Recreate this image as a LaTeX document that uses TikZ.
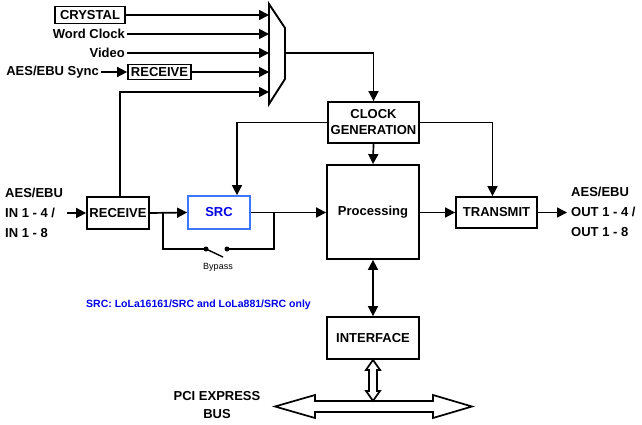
\documentclass[tikz,border=0pt]{standalone}
\usepackage{fontspec}
\setmainfont{Liberation Sans}
\usepackage{tikz}
\usetikzlibrary{positioning}
\usetikzlibrary{calc,arrows.meta}

\definecolor{srcblue}{RGB}{0,0,235}
\definecolor{srcedge}{RGB}{60,120,255}

\tikzset{
    blk/.style={draw, line width=1.8pt, fill=white, inner sep=1pt, align=center,
        font=\bfseries\fontsize{13}{16}\selectfont},
    lbl/.style={inner sep=2pt, font=\bfseries\fontsize{13}{20}\selectfont},
    arr/.style={line width=1.7pt, -{Triangle[length=10pt,width=10pt]}},
    wire/.style={line width=1.7pt},
}

\begin{document}
\begin{tikzpicture}[x=1pt,y=-1pt]
    \useasboundingbox (0,0) rectangle (642,425);

    % Clock source selector
    \coordinate (mux-l) at (269,0);
    \draw[line width=1.9pt] (269,4) -- (285,28) -- (285,79) -- (269,104) -- cycle;
    \coordinate (muxout) at (285,53); % output of the selector

    \node[blk, minimum width=70, minimum height=17, inner sep=0pt] (crystal) at (90,15) {CRYSTAL};
    \node[lbl, anchor=east] (wordclk) at (127,34) {Word Clock};
    \node[lbl, anchor=east] (video) at (127,53) {Video};
    \node[lbl, anchor=east] (syncin) at (101,72) {AES/EBU Sync};
    \node[blk, minimum width=63, minimum height=15, inner sep=0pt] (syncrx) at (159.5,72) {RECEIVE};

    \foreach \from in {crystal,wordclk,video,syncrx}{
        \draw[arr] (\from.east) -- (\from.east -| mux-l); % input of the selector
    }
    \draw[arr] (syncin.east) -- (syncrx.west);

    % Main blocks
    \node[blk, minimum width=91, minimum height=41] (clockgen) at (373.5,122.5) {CLOCK\\GENERATION};
    \node[blk, minimum width=62, minimum height=32] (rx) at (118,213) {RECEIVE};
    \node[blk, draw=srcedge, text=srcblue, minimum width=62, minimum height=33] (src) at (219,212.5) {SRC};
    \node[blk, minimum width=92, minimum height=94] (proc) at (373,212) {Processing};
    \node[blk, minimum width=81, minimum height=31] (tx) at (496.5,212.5) {TRANSMIT};
    \node[blk, minimum width=92, minimum height=42] (iface) at (373,338) {INTERFACE};

    \node[lbl, anchor=west, align=left] (inlbl) at (3,213) {AES/EBU\\IN 1 - 4 /\\IN 1 - 8};
    \node[lbl, anchor=west, align=left] (outlbl) at (569,212) {AES/EBU\\OUT 1 - 4 /\\OUT 1 - 8};
    \node[lbl, align=center, font=\bfseries\fontsize{13}{18}\selectfont] (buslbl) at (217,405) {PCI EXPRESS\\BUS};
    \node[anchor=west, inner sep=0pt, text=srcblue, font=\bfseries\fontsize{10.5}{12}\selectfont] (note) at (86,305)
        {SRC: LoLa16161/SRC and LoLa881/SRC only};

    % Clock paths
    \draw[arr] (muxout) -| (clockgen.north);
    \draw[arr] ([xshift=2pt]rx.north) |- (mux-l |- 0,92);
    \draw[arr] (clockgen.south) -- (proc.north);
    \draw[arr] (clockgen.west) -| ([xshift=18pt]src.north);
    \draw[arr] (clockgen.east) -| ([xshift=-4pt]tx.north);

    % Audio path
    \draw[arr] ([xshift=2pt]inlbl.east |- rx.west) -- (rx.west);
    \draw[arr] (rx.east) -- (src.west);
    \draw[arr] (src.east) -- (src.east -| proc.west);
    \draw[arr] (proc.east |- tx.west) -- (tx.west);
    \draw[arr] (tx.east) -- ([xshift=-2pt]outlbl.west |- tx.east);

    % Bypass switch
    \coordinate (byin) at (163,213);
    \coordinate (byout) at (274,213);
    \coordinate (sw1) at (206,249);
    \coordinate (sw2) at (227,249);
    \draw[wire] (byin) |- (sw1);
    \draw[wire] (sw2) -| (byout);
    \draw[line width=1.4pt] (sw1) -- (223,257);
    \fill (sw1) circle (2.5pt) (sw2) circle (2.5pt);
    \node[inner sep=0pt, font=\fontsize{9}{10}\selectfont] (bypass) at (218,267) {Bypass};

    % Host side
    \draw[line width=1.7pt, {Triangle[length=10pt,width=10pt]}-{Triangle[length=10pt,width=10pt]}] (proc.south) -- (iface.north);

    \coordinate (busL) at (275,406.5);
    \coordinate (busR) at (472,406.5);
    \draw[line width=1.7pt] (busL) -- ++(40,-11.5) -- ++(0,6) -- ($(busR)+(-39,-5.5)$) -- ++(0,-6) -- (busR)
        -- ++(-39,11.5) -- ++(0,-6) -- ($(busL)+(40,5.5)$) -- ++(0,6) -- cycle; % PCI Express bus

    \coordinate (h1) at (iface.south);
    \draw[line width=1.7pt] (h1) -- ++(7,10) -- ++(-3,0) -- ++(0,21) -- ++(3,0) -- ++(-7,10)
        -- ++(-7,-10) -- ++(3,0) -- ++(0,-21) -- ++(-3,0) -- cycle; % link to the bus
\end{tikzpicture}
\end{document}
